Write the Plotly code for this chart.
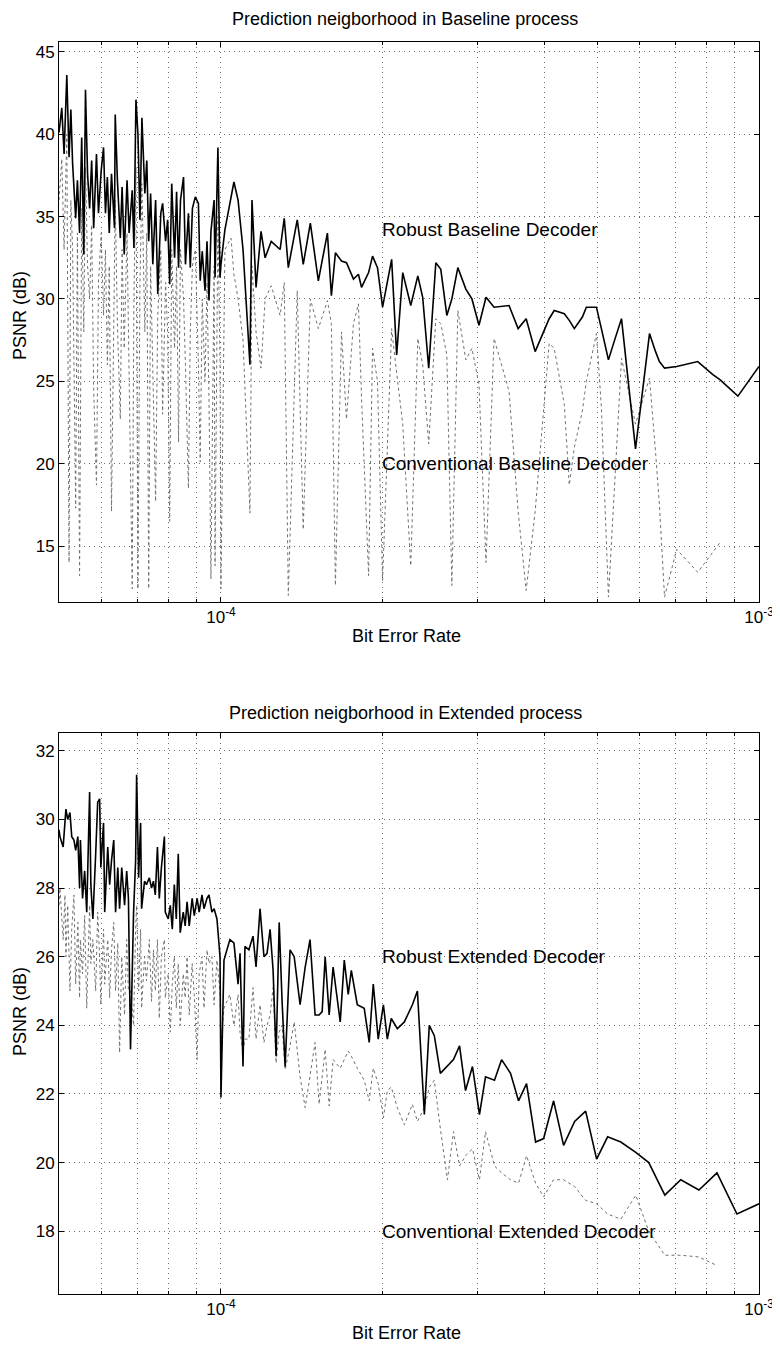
import math
import plotly.graph_objects as go

# ---------------- data (BER values are given in units of 1e-5) ----------------
top_ber_e5 = [
    5.00, 5.06, 5.11, 5.17, 5.22, 5.26, 5.30, 5.37, 5.41, 5.46,
    5.51, 5.56, 5.60, 5.65, 5.70, 5.75, 5.80, 5.87, 5.92, 5.99,
    6.05, 6.10, 6.15, 6.20, 6.26, 6.34, 6.36, 6.42, 6.50, 6.55,
    6.61, 6.69, 6.75, 6.84, 6.89, 6.95, 7.01, 7.07, 7.13, 7.22,
    7.28, 7.34, 7.40, 7.47, 7.56, 7.63, 7.73, 7.79, 7.89, 7.96,
    8.03, 8.10, 8.20, 8.27, 8.34, 8.41, 8.52, 8.59, 8.70, 8.77,
    8.85, 8.96, 9.08, 9.15, 9.23, 9.34, 9.42, 9.50, 9.58, 9.71,
    9.75, 9.87, 9.96, 10.00,
    10.17, 10.44, 10.57, 10.76, 10.99, 11.32, 11.42, 11.62, 11.87, 12.08,
    12.40, 12.88, 13.11, 13.34, 13.86, 14.22, 14.66, 15.17, 15.77, 16.04,
    16.32, 16.75, 17.11, 17.63, 18.01, 18.25, 18.81, 19.13, 19.54, 19.97,
    20.76, 21.21, 21.77, 22.53, 23.22, 23.71, 24.33, 25.08, 25.62, 26.29,
    26.86, 27.56, 28.52, 29.27, 30.17, 31.09, 32.18, 34.31, 35.67, 36.92,
    38.37, 40.74, 41.63, 43.46, 44.40, 45.37, 46.96, 47.77, 49.87, 50.94,
    52.50, 53.90, 55.52, 58.95, 62.59, 64.23, 65.30, 66.75, 70.31, 76.94,
    82.07, 84.60, 91.37, 100.0,
]
top_robust = [
    40.1, 41.6, 38.8, 43.6, 38.6, 41.5, 38.2, 34.9, 37.2, 34.0,
    39.8, 32.7, 42.7, 37.6, 35.5, 38.4, 34.3, 38.8, 35.2, 37.8,
    39.2, 35.2, 37.4, 34.0, 37.6, 34.3, 41.2, 37.2, 33.7, 36.8,
    32.7, 37.2, 34.0, 36.6, 33.1, 42.1, 40.0, 34.8, 41.0, 36.4,
    38.4, 33.5, 36.4, 32.1, 36.0, 30.3, 35.2, 35.8, 33.5, 34.8,
    30.9, 37.0, 32.5, 36.5, 31.9, 36.0, 37.4, 32.1, 35.2, 31.9,
    35.5, 36.2, 35.8, 31.1, 32.9, 30.5, 33.5, 29.9, 34.1, 36.0,
    31.3, 39.2, 31.3, 32.1,
    34.2, 36.2, 37.1, 36.0, 33.0, 26.0, 36.0, 30.7, 34.1, 32.5,
    33.5, 33.0, 34.9, 31.9, 34.8, 32.1, 34.6, 31.1, 34.0, 30.2,
    32.8, 32.3, 32.2, 31.2, 31.5, 30.7, 31.6, 32.6, 31.9, 29.5,
    32.4, 26.6, 31.6, 29.6, 31.4, 30.1, 25.8, 32.2, 31.8, 29.0,
    30.0, 31.9, 30.6, 30.0, 28.4, 30.1, 29.5, 29.6, 28.2, 28.8,
    26.8, 28.8, 29.3, 29.1, 28.7, 28.2, 28.9, 29.5, 29.5, 28.2,
    26.3, 27.5, 28.8, 20.9, 27.9, 26.8, 26.2, 25.8, 25.9, 26.2,
    25.4, 25.1, 24.1, 25.9,
]
top_conventional = [
    36.0, 38.5, 33.0, 40.0, 14.0, 36.0, 33.0, 17.3, 34.0, 13.2,
    35.5, 28.0, 38.0, 32.0, 30.0, 34.5, 24.5, 18.7, 31.0, 34.0,
    29.0, 33.0, 26.0, 32.0, 17.1, 30.0, 36.0, 28.5, 22.7, 33.0,
    27.0, 34.0, 25.0, 12.4, 30.0, 38.0, 12.4, 31.0, 37.0, 28.0,
    34.0, 12.4, 32.0, 26.0, 17.7, 29.0, 33.0, 23.0, 31.0, 28.0,
    16.5, 33.0, 27.0, 32.0, 21.3, 33.0, 30.0, 26.0, 18.5, 28.0,
    32.0, 33.0, 26.0, 20.1, 30.0, 25.0, 31.0, 24.0, 13.0, 32.0,
    13.8, 35.0, 26.0, 12.4,
    33.0, 33.7, 31.5, 30.0, 27.5, 17.0, 32.0, 28.0, 25.8, 30.0,
    30.8, 29.0, 31.0, 12.0, 30.5, 16.0, 30.0, 28.2, 29.9, 28.5,
    12.6, 28.0, 22.7, 28.5, 29.7, 24.0, 13.2, 27.0, 25.0, 12.9,
    28.2, 25.5, 22.4, 13.8, 27.6, 26.0, 21.2, 28.8, 28.5, 26.6,
    12.6, 29.3, 26.3, 27.0, 24.8, 14.0, 27.6, 24.4, 17.1, 12.3,
    17.1, 27.3, 27.0, 23.6, 18.7, 21.0, 23.2, 25.0, 27.9, 23.4,
    11.9, 18.7, 26.4, 22.4, 25.2, 20.7, 17.5, 11.9, 14.8, 13.4,
    14.6, 15.2, None, None,
]

bot_ber_e5 = [
    5.00, 5.02, 5.09, 5.13, 5.15, 5.19, 5.24, 5.28, 5.33, 5.37,
    5.42, 5.46, 5.48, 5.53, 5.58, 5.63, 5.70, 5.73, 5.78, 5.85,
    5.90, 5.95, 5.98, 6.05, 6.08, 6.16, 6.21, 6.26, 6.32, 6.37,
    6.43, 6.48, 6.54, 6.62, 6.68, 6.73, 6.79, 6.88, 6.94, 6.97,
    7.03, 7.09, 7.12, 7.21, 7.27, 7.36, 7.43, 7.49, 7.55, 7.62,
    7.68, 7.75, 7.85, 7.88, 7.98, 8.05, 8.12, 8.19, 8.26, 8.33,
    8.40, 8.51, 8.58, 8.65, 8.73, 8.84, 8.92, 9.03, 9.11, 9.22,
    9.30, 9.42, 9.50, 9.62, 9.71, 9.83, 9.96, 10.00,
    10.13, 10.39, 10.57, 10.76, 10.85, 10.99, 11.08, 11.27, 11.47, 11.62,
    11.82, 12.02, 12.18, 12.34, 12.50, 12.66, 12.83, 12.99, 13.16, 13.44,
    13.68, 14.03, 14.34, 14.64, 14.96, 15.22, 15.42, 15.62, 15.89, 16.16,
    16.66, 16.95, 17.24, 17.47, 17.92, 18.46, 18.86, 19.19, 19.60, 20.04,
    20.38, 20.73, 21.27, 21.92, 22.69, 23.18, 23.88, 24.39, 24.92, 25.57,
    26.36, 27.05, 27.76, 28.48, 29.34, 30.23, 31.02, 32.24, 33.23, 34.53,
    35.73, 36.98, 38.44, 39.78, 41.52, 43.33, 45.43, 47.62, 49.91, 52.32,
    55.35, 59.02, 62.39, 66.83, 71.55, 77.33, 83.54, 90.99, 100.0,
]
bot_robust = [
    29.7, 29.5, 29.2, 30.0, 30.3, 30.0, 30.2, 29.5, 29.4, 29.1,
    29.5, 28.0, 29.4, 27.7, 28.5, 27.3, 30.8, 28.1, 27.1, 29.0,
    30.5, 30.6, 28.6, 29.9, 27.3, 29.2, 28.1, 28.8, 29.4, 27.3,
    28.6, 27.4, 28.6, 27.5, 28.5, 27.7, 23.3, 27.3, 28.8, 31.3,
    28.3, 29.9, 27.4, 28.2, 28.1, 28.3, 28.0, 28.2, 27.8, 29.2,
    27.7, 28.6, 29.5, 27.3, 27.1, 27.5, 26.8, 28.1, 27.1, 29.0,
    26.7, 27.3, 26.9, 27.6, 26.9, 27.7, 27.2, 27.7, 27.3, 27.8,
    27.4, 27.7, 27.8, 27.3, 27.4, 27.1, 26.0, 21.9,
    25.9, 26.5, 26.4, 25.2, 26.1, 22.8, 26.3, 26.2, 26.6, 25.7,
    27.4, 26.0, 26.1, 26.8, 25.6, 23.1, 27.0, 24.7, 22.8, 26.2,
    26.0, 24.6, 25.7, 26.5, 24.3, 24.3, 24.4, 26.0, 24.3, 25.7,
    24.1, 25.9, 24.9, 25.6, 24.6, 24.5, 23.5, 25.2, 23.6, 24.6,
    23.6, 24.2, 23.9, 24.1, 24.6, 25.0, 21.4, 24.0, 23.7, 22.6,
    22.8, 23.0, 23.4, 22.1, 22.8, 21.4, 22.5, 22.4, 23.0, 22.6,
    21.8, 22.3, 20.6, 20.7, 21.8, 20.5, 21.2, 21.5, 20.1, 20.75,
    20.6, 20.3, 20.0, 19.05, 19.5, 19.2, 19.7, 18.5, 18.8,
]
bot_conventional = [
    27.5, 28.0, 26.5, 27.8, 26.0, 27.5, 25.0, 26.8, 27.8, 25.2,
    27.0, 24.8, 26.5, 25.5, 27.2, 24.5, 27.5, 25.8, 26.5, 25.0,
    27.3, 26.0, 24.6, 26.8, 25.2, 26.5, 24.8, 26.2, 27.0, 25.0,
    26.4, 23.2, 26.0, 24.3, 26.5, 25.0, 25.0, 24.0, 26.8, 27.5,
    25.0, 26.8, 24.5, 26.0, 25.3, 26.5, 24.7, 26.2, 25.0, 26.5,
    24.2, 26.0, 26.5, 24.8, 25.5, 23.8, 25.2, 26.0, 24.5, 25.8,
    24.0, 25.5, 24.8, 26.0, 24.3, 25.8, 24.9, 23.0, 25.5, 26.0,
    24.5, 26.2, 25.8, 26.0, 24.6, 25.9, 25.0, 23.5,
    24.5, 24.9, 24.0, 24.9, 23.8, 23.2, 23.6, 23.6, 25.1, 23.6,
    24.6, 23.5, 24.0, 24.3, 25.1, 22.9, 23.8, 24.0, 22.7, 23.4,
    24.1, 22.5, 21.6, 22.55, 23.5, 21.7, 22.55, 23.3, 21.65, 23.0,
    22.75, 23.0, 23.25, 23.1, 22.75, 22.4, 21.8, 22.75, 22.3, 21.3,
    22.1, 22.2, 21.6, 21.1, 21.7, 21.2, 21.6, 22.2, 22.4, 21.0,
    19.5, 20.9, 19.9, 20.2, 20.4, 19.5, 20.9, 19.9, 19.7, 19.5,
    19.4, 20.2, 19.4, 19.0, 19.5, 19.5, 19.3, 18.9, 18.8, 18.5,
    18.35, 19.05, 18.0, 17.3, 17.3, 17.25, 17.0, None, None,
]

x_major_vals = [1e-4, 1e-3]
x_major_text = ["10<sup>-4</sup>", "10<sup>-3</sup>"]
x_minor_vals = [6e-5, 7e-5, 8e-5, 9e-5, 2e-4, 3e-4, 4e-4, 5e-4,
                6e-4, 7e-4, 8e-4, 9e-4]
top_yticks = [15, 20, 25, 30, 35, 40, 45]
bot_yticks = [18, 20, 22, 24, 26, 28, 30, 32]

titles = ["Prediction neigborhood in Baseline process",
          "Prediction neigborhood in Extended process"]
series_labels_top = ["Robust Baseline Decoder", "Conventional Baseline Decoder"]
series_labels_bot = ["Robust Extended Decoder", "Conventional Extended Decoder"]
label_y_top = [34.2, 20.0]
label_y_bot = [26.0, 18.0]
label_x = 2e-4

top_ber = [v * 1e-5 for v in top_ber_e5]
bot_ber = [v * 1e-5 for v in bot_ber_e5]

# ---------------- figure ----------------
FONT = "Liberation Sans, Arial, Helvetica, sans-serif"
fig = go.Figure()

conv_line = dict(color="#707070", width=1, dash="dot")
rob_line = dict(color="black", width=1.6)

fig.add_trace(go.Scatter(x=top_ber, y=top_conventional, mode="lines",
                         line=conv_line, xaxis="x", yaxis="y",
                         connectgaps=False, showlegend=False))
fig.add_trace(go.Scatter(x=top_ber, y=top_robust, mode="lines",
                         line=rob_line, xaxis="x", yaxis="y", showlegend=False))
fig.add_trace(go.Scatter(x=bot_ber, y=bot_conventional, mode="lines",
                         line=conv_line, xaxis="x2", yaxis="y2",
                         connectgaps=False, showlegend=False))
fig.add_trace(go.Scatter(x=bot_ber, y=bot_robust, mode="lines",
                         line=rob_line, xaxis="x2", yaxis="y2", showlegend=False))

GRID = dict(showgrid=True, gridcolor="#6a6a6a", griddash="1px,4px", gridwidth=1)
common_x = dict(type="log", range=[math.log10(5e-5), -3],
                tickvals=x_major_vals, ticktext=x_major_text,
                ticks="inside", ticklen=5, tickcolor="black",
                minor=dict(tickvals=x_minor_vals, ticks="inside", ticklen=3,
                           tickcolor="black", **GRID),
                showline=True, linecolor="black", linewidth=1, mirror="ticks",
                zeroline=False, tickfont=dict(family=FONT, size=17, color="black"),
                **GRID)
common_y = dict(ticks="inside", ticklen=5, tickcolor="black",
                showline=True, linecolor="black", linewidth=1, mirror="ticks",
                zeroline=False, tickfont=dict(family=FONT, size=17, color="black"),
                **GRID)

# The page places the figure 8 px from the top-left corner of the window,
# so the figure is sized and its margins set in window pixels minus 8.
OFF = 8
W, H = 780 - OFF, 1347 - OFF
L, R, T, B = 59 - OFF, 21, 42 - OFF, 53
PH = H - T - B
PW = W - L - R


def py(p):
    return (H + OFF - B - p) / PH


def px(p):
    return (p - OFF - L) / PW


fig.update_layout(
    width=W, height=H,
    margin=dict(l=L, r=R, t=T, b=B, autoexpand=False),
    paper_bgcolor="white", plot_bgcolor="white",
    font=dict(family=FONT, color="black", size=17),
    xaxis=dict(domain=[0, 1], anchor="y", **common_x),
    yaxis=dict(domain=[py(602), 1], anchor="x", range=[11.6, 45.6],
               tickvals=top_yticks, **common_y),
    xaxis2=dict(domain=[0, 1], anchor="y2", **common_x),
    yaxis2=dict(domain=[0, py(733)], anchor="x2", range=[16.17, 32.52],
                tickvals=bot_yticks, **common_y),
)

ann = []
for txt, yc in zip(titles, [19, 713]):
    ann.append(dict(text=txt, x=px(405), y=py(yc), xref="paper", yref="paper",
                    showarrow=False, font=dict(size=18), xanchor="center", yanchor="middle"))
for yc in [636, 1333]:
    ann.append(dict(text="Bit Error Rate", x=px(406), y=py(yc), xref="paper", yref="paper",
                    showarrow=False, font=dict(size=18), xanchor="center", yanchor="middle"))
for yc in [316, 1012]:
    ann.append(dict(text="PSNR (dB)", x=px(20), y=py(yc), xref="paper", yref="paper",
                    textangle=-90, showarrow=False, font=dict(size=18),
                    xanchor="center", yanchor="middle"))
for txt, yv in zip(series_labels_top, label_y_top):
    ann.append(dict(text=txt, x=math.log10(label_x), y=yv, xref="x", yref="y",
                    showarrow=False, font=dict(size=19), xanchor="left", yanchor="middle",
                    xshift=-3))
for txt, yv in zip(series_labels_bot, label_y_bot):
    ann.append(dict(text=txt, x=math.log10(label_x), y=yv, xref="x2", yref="y2",
                    showarrow=False, font=dict(size=19), xanchor="left", yanchor="middle",
                    xshift=-3))
fig.update_layout(annotations=ann)

fig.write_html("out.html")
